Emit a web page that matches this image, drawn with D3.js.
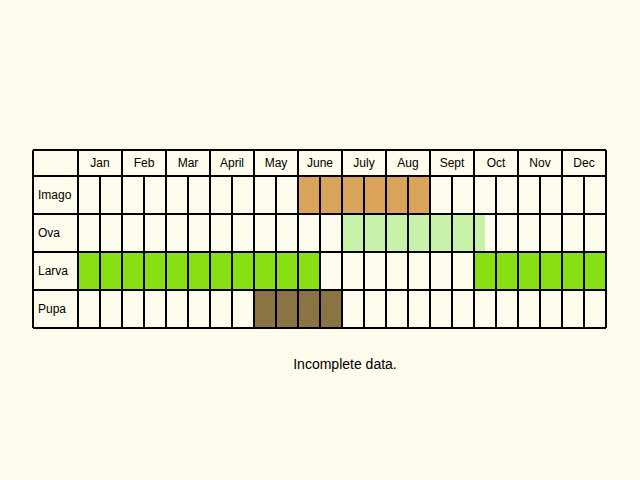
<!DOCTYPE html><html><head><meta charset="utf-8"><script src="https://cdn.jsdelivr.net/npm/d3@7"></script>
<style>body{margin:0;background:#fdfbeb}</style></head><body><svg width="640" height="480"></svg>
<script>
const months=["Jan","Feb","Mar","April","May","June","July","Aug","Sept","Oct","Nov","Dec"];
const stages=["Imago","Ova","Larva","Pupa"];
const colors=["#d9a45a","#c8f1a9","#88e012","#8b7443"];
// periods in half-month units [start,end)
const periods=[
 {stage:"Imago",start:10,end:16},
 {stage:"Ova",start:12,end:18.5},
 {stage:"Larva",start:0,end:11},
 {stage:"Larva",start:18,end:24},
 {stage:"Pupa",start:8,end:12}];
const note="Incomplete data.";
const svg=d3.select("svg");
svg.append("rect").attr("width",640).attr("height",480).attr("fill","#fdfbeb");
const x=d3.scaleLinear().domain([0,24]).range([78,606]);
const y=d3.scaleBand().domain(stages).range([176,328]);
const c=d3.scaleOrdinal().domain(stages).range(colors);
svg.selectAll(".p").data(periods).join("rect").attr("x",d=>x(d.start)).attr("width",d=>x(d.end)-x(d.start))
 .attr("y",d=>y(d.stage)).attr("height",y.bandwidth()).attr("fill",d=>c(d.stage));
const g=svg.append("g").attr("stroke","#000").attr("stroke-width",2);
// horizontal
[150,176,...stages.map(s=>y(s)+y.bandwidth())].forEach(v=>g.append("line").attr("x1",33).attr("x2",606).attr("y1",v).attr("y2",v));
g.append("line").attr("x1",33).attr("x2",33).attr("y1",150).attr("y2",328);
d3.range(25).forEach(i=>g.append("line").attr("x1",x(i)).attr("x2",x(i)).attr("y1",i%2==0?150:176).attr("y2",328));
svg.selectAll(".m").data(months).join("text").attr("x",(d,i)=>x(i*2+1)).attr("y",167).attr("text-anchor","middle")
 .attr("font-family","Liberation Sans, Arial").attr("font-size",12).text(d=>d);
svg.selectAll(".s").data(stages).join("text").attr("x",38).attr("y",d=>y(d)+y.bandwidth()/2+4)
 .attr("font-family","Liberation Sans, Arial").attr("font-size",12).text(d=>d);
svg.append("text").attr("x",345).attr("y",369).attr("text-anchor","middle").attr("font-family","Liberation Sans, Arial").attr("font-size",14).text(note);
</script></body></html>
